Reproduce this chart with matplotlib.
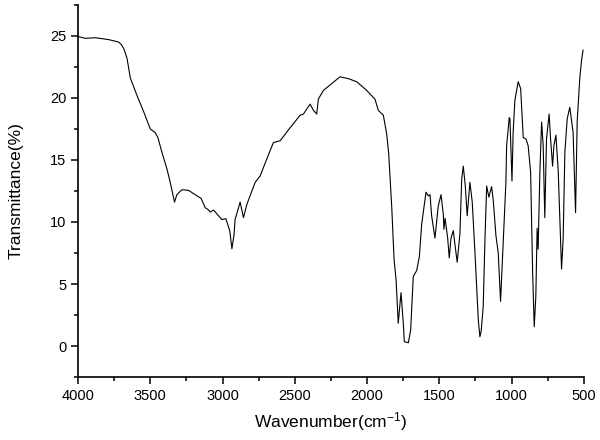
import matplotlib
matplotlib.use('Agg')
import matplotlib.pyplot as plt
from matplotlib.ticker import MultipleLocator

plt.rcParams['font.family'] = ['Liberation Sans', 'DejaVu Sans']
plt.rcParams['mathtext.default'] = 'regular'

# FTIR spectrum
wavenumber = [4000, 3950, 3880, 3788, 3719, 3700, 3685, 3672, 3661, 3638, 3592, 3546,
              3500, 3466, 3447, 3419, 3385, 3362, 3340, 3332, 3316, 3281, 3235,
              3189, 3148, 3120, 3100, 3085, 3062, 3005, 2977, 2950, 2935, 2920, 2913,
              2878, 2855, 2832, 2774, 2740, 2693, 2648, 2601, 2532, 2463,
              2440, 2394, 2371, 2348, 2337, 2302, 2244, 2187, 2129, 2071,
              2002, 1945, 1922, 1887, 1864, 1850, 1840, 1829, 1813, 1799,
              1784, 1765, 1749, 1742, 1714, 1698, 1680, 1656, 1638, 1622,
              1592, 1576, 1564, 1553, 1530, 1507, 1488, 1472, 1468, 1460,
              1442, 1431, 1419, 1403, 1395, 1376, 1357, 1345, 1334, 1320,
              1307, 1288, 1272, 1253, 1230, 1219, 1210, 1196, 1184, 1172, 1157,
              1138, 1127, 1108, 1092, 1076, 1062, 1053, 1039, 1034, 1016,
              1011, 997, 989, 977, 954, 937, 919, 901, 885, 868,
              854, 843, 832, 823, 816, 804, 792, 781, 770, 758,
              740, 730, 716, 707, 693, 677, 654, 643, 631, 615,
              597, 574, 557, 546, 528, 516, 505]
transmittance = [24.95, 24.8, 24.85, 24.7, 24.5, 24.3, 24.0, 23.6, 23.2, 21.6, 20.2, 18.9,
                 17.5, 17.2, 16.8, 15.6, 14.3, 13.2, 12.0, 11.6, 12.2, 12.6, 12.55,
                 12.2, 11.9, 11.15, 11.0, 10.8, 10.96, 10.2, 10.27, 9.3, 7.84, 9.0, 10.2,
                 11.6, 10.35, 11.4, 13.2, 13.7, 15.1, 16.4, 16.55, 17.6, 18.6,
                 18.7, 19.5, 19.0, 18.7, 19.9, 20.6, 21.15, 21.7, 21.55, 21.3,
                 20.6, 19.9, 19.0, 18.6, 17.1, 15.5, 13.5, 11.2, 7.0, 5.35,
                 1.84, 4.3, 1.84, 0.35, 0.27, 1.3, 5.6, 6.1, 7.2, 9.8,
                 12.4, 12.1, 12.2, 10.5, 8.7, 11.3, 12.2, 10.6, 9.4, 10.3,
                 8.7, 7.1, 8.7, 9.3, 8.5, 6.75, 9.1, 13.45, 14.5, 12.9,
                 10.5, 13.2, 11.6, 7.5, 2.1, 0.75, 1.2, 3.2, 8.6, 12.9, 12.0,
                 12.85, 11.8, 8.9, 7.5, 3.6, 7.2, 9.5, 13.2, 16.15, 18.4,
                 18.3, 13.3, 17.2, 19.8, 21.3, 20.75, 16.8, 16.7, 16.15, 14.0,
                 5.9, 1.56, 4.0, 9.5, 7.8, 14.0, 18.05, 16.15, 10.35, 16.7,
                 18.7, 16.7, 14.5, 16.15, 17.0, 14.1, 6.2, 8.6, 15.6, 18.3,
                 19.25, 17.2, 10.75, 18.05, 21.55, 23.0, 23.85]

x_ticks = [4000, 3500, 3000, 2500, 2000, 1500, 1000, 500]
y_ticks = [0, 5, 10, 15, 20, 25]

fig = plt.figure(figsize=(6, 4.4), dpi=100, facecolor='w')
axes = fig.add_axes([0.13, 0.143, 0.843, 0.846])

axes.plot(wavenumber, transmittance, color='black', linewidth=0.8)

axes.set_xlim(4000, 500)
axes.set_ylim(-2.5, 27.5)
axes.set_xticks(x_ticks)
axes.set_yticks(y_ticks)
axes.xaxis.set_minor_locator(MultipleLocator(250))
axes.yaxis.set_minor_locator(MultipleLocator(2.5))

for _s in ['top', 'right']:
    axes.spines[_s].set_visible(False)
for _s in ['left', 'bottom']:
    axes.spines[_s].set_linewidth(1.2)

axes.tick_params(which='major', direction='out', length=5, width=1.1, labelsize=10.5)
axes.tick_params(which='minor', direction='out', length=3, width=1.1)

axes.set_xlabel('Wavenumber(cm$^{-1}$)', fontsize=12.5)
axes.set_ylabel('Transmittance(%)', fontsize=12.5)
axes.yaxis.set_label_coords(-0.107, 0.5)
axes.xaxis.set_label_coords(0.5, -0.089)

plt.savefig('out.png')
